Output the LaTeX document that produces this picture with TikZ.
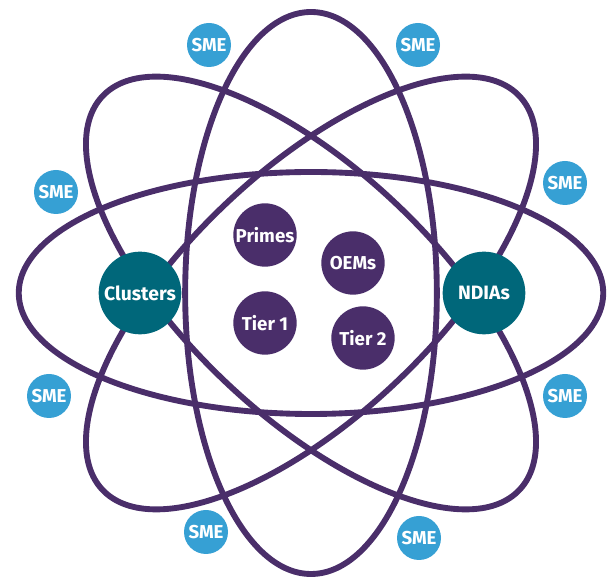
\documentclass[tikz,border=0pt]{standalone}
\usepackage{fontspec}
\setmainfont{Fira Sans}
\usetikzlibrary{positioning}
\definecolor{atompurple}{RGB}{74, 46, 106}
\definecolor{atomteal}{RGB}{0, 103, 122}
\definecolor{smeblue}{RGB}{54, 160, 212}

\begin{document}
\begin{tikzpicture}[
  x=0.75pt, y=-0.75pt,
  orbit/.style={draw=atompurple, line width=4.4pt},
  ball/.style={circle, inner sep=0pt, text=white, font=\bfseries\fontsize{14}{16}\selectfont},
  hub/.style={ball, fill=atomteal, minimum size=62pt, font=\bfseries\fontsize{14.5}{16}\selectfont},
  core/.style={ball, fill=atompurple, minimum size=47.5pt},
  sme/.style={ball, fill=smeblue, minimum size=33pt, font=\bfseries\fontsize{14}{16}\selectfont}
]
  \useasboundingbox (0,0) rectangle (608,580);

  % Orbits
  \begin{scope}[shift={(311,293)}, xscale=1.04]
    \draw[orbit] (0,0) ellipse (281 and 121);
    \draw[orbit] (0,0) ellipse (121 and 281);
    \draw[orbit, rotate=45] (0,0) ellipse (281 and 121);
    \draw[orbit, rotate=-45] (0,0) ellipse (281 and 121);
  \end{scope}

  % Hubs on the orbits
  \node[hub] (clusters) at (140,293) {Clusters};
  \node[hub] (ndias) at (484,293) {NDIAs};

  % Nucleus
  \node[core] (primes) at (265,235) {Primes};
  \node[core] (oems) at (353,263) {OEMs};
  \node[core] (tierone) at (265,323) {Tier 1};
  \node[core] (tiertwo) at (363,338) {Tier 2};

  % SMEs around the outside
  \foreach \n/\x/\y in {1/209/45, 2/418/45, 3/56/192, 4/565/183,
                        5/49/396, 6/565/396, 7/206/532, 8/419/538}
    \node[sme] (sme\n) at (\x,\y) {SME};
\end{tikzpicture}
\end{document}
